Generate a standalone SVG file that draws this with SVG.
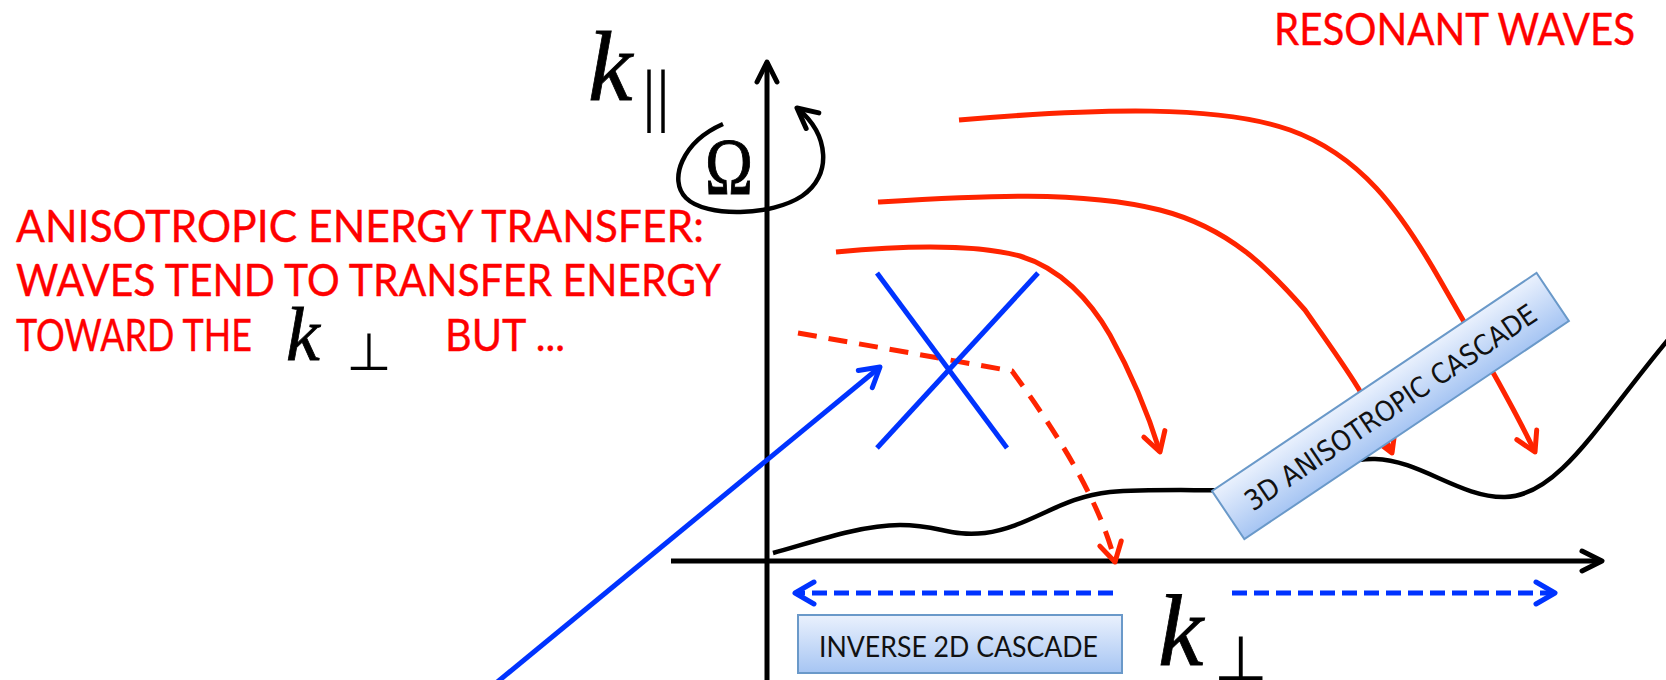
<svg xmlns="http://www.w3.org/2000/svg" width="1666" height="680" viewBox="0 0 1666 680">
<style>
.ln{fill:none;stroke-linejoin:round}
.ax{stroke:#000;stroke-width:5}
.bk{stroke:#000;stroke-width:4.5}
.rd{stroke:#FF2400;stroke-width:5}
.bl{stroke:#0033FF;stroke-width:5}
.dr{stroke-dasharray:19 12}
.db{stroke-dasharray:15 7}
.lbl{font-family:Lato,"Liberation Sans",sans-serif;fill:#FF0000;stroke:#FF0000;stroke-width:0.4}
.box{stroke:#6A99C9;stroke-width:2}
.bt{font-family:Lato,"Liberation Sans",sans-serif;fill:#111}
.bt2{font-family:"DejaVu Sans","Liberation Sans",sans-serif;fill:#111}
.math{font-family:"Liberation Serif",serif;font-style:italic;fill:#000;stroke:#000;stroke-width:0.8}
.sym{font-family:"Liberation Serif",serif;fill:#000}
.perp{font-family:"DejaVu Sans",sans-serif;fill:#000}
</style>
<defs>
<linearGradient id="gb" x1="0" y1="0" x2="0" y2="1">
<stop offset="0" stop-color="#EAF1FD"/>
<stop offset="1" stop-color="#A6C5F3"/>
</linearGradient>
<marker id="mr" viewBox="-25 -15 30 30" markerWidth="30" markerHeight="30" refX="0" refY="0" orient="auto" markerUnits="userSpaceOnUse">
<path d="M-19,-11 L0,0 L-19,11" fill="none" stroke="#FF2400" stroke-width="5" stroke-linejoin="round" stroke-linecap="round"/>
</marker>
<marker id="mb" viewBox="-25 -15 30 30" markerWidth="30" markerHeight="30" refX="0" refY="0" orient="auto" markerUnits="userSpaceOnUse">
<path d="M-19,-11 L0,0 L-19,11" fill="none" stroke="#0033FF" stroke-width="5" stroke-linejoin="round" stroke-linecap="round"/>
</marker>
<marker id="mk" viewBox="-25 -15 30 30" markerWidth="30" markerHeight="30" refX="0" refY="0" orient="auto" markerUnits="userSpaceOnUse">
<path d="M-20,-10 L0,0 L-20,10" fill="none" stroke="#000" stroke-width="5" stroke-linejoin="round" stroke-linecap="round"/>
</marker>
</defs>
<rect width="1666" height="680" fill="#fff"/>

<g id="labels">
<text class="lbl" x="1274" y="45" font-size="44" textLength="361" lengthAdjust="spacingAndGlyphs">RESONANT WAVES</text>
<text class="lbl" x="16" y="242" font-size="45" textLength="688" lengthAdjust="spacingAndGlyphs">ANISOTROPIC ENERGY TRANSFER:</text>
<text class="lbl" x="16" y="296" font-size="45" textLength="705" lengthAdjust="spacingAndGlyphs">WAVES TEND TO TRANSFER ENERGY</text>
<text class="lbl" x="16" y="351" font-size="45" textLength="236" lengthAdjust="spacingAndGlyphs">TOWARD THE</text>
<text class="math" x="286" y="360" font-size="76" stroke-width="0.4">k</text>
<text class="perp" x="369" y="370" font-size="52" text-anchor="middle">⊥</text>
<text class="lbl" x="445" y="351" font-size="45" textLength="120" lengthAdjust="spacingAndGlyphs">BUT ...</text>
</g>

<g id="axes">
<text class="math" x="588" y="100" font-size="100">k</text>
<text class="sym" x="642" y="118" font-size="70">||</text>
<text class="sym" x="705" y="194" font-size="80" textLength="48" lengthAdjust="spacingAndGlyphs" stroke="#000" stroke-width="1">Ω</text>
<text class="math" x="1158" y="665" font-size="102">k</text>
<text class="perp" x="1241" y="680" font-size="62" text-anchor="middle">⊥</text>
</g>

<g id="connectors">
<path class="ln ax" d="M767,690 L767,62" marker-end="url(#mk)"/>
<path class="ln ax" d="M671,561 L1602,561" marker-end="url(#mk)"/>
<path class="ln bk" d="M723,124 C682,142 668,180 686,198 C706,218 772,216 802,196 C832,176 830,135 797,108" marker-end="url(#mk)"/>
<path class="ln bk" d="M773,553 C810,543 860,525 900,525 C940,525 950,537 985,533 C1030,527 1060,497 1110,492 C1160,488 1220,492 1260,489 C1310,485 1330,458 1375,459 C1420,460 1460,498 1505,497 C1560,496 1600,420 1672,335"/>
<path class="ln rd" d="M959,120 C1100,108 1220,105 1290,130 C1360,155 1400,210 1440,280 C1480,350 1510,400 1535,452" marker-end="url(#mr)"/>
<path class="ln rd" d="M878,202 C980,196 1080,190 1160,210 C1230,228 1270,270 1305,310 C1340,360 1370,400 1392,453" marker-end="url(#mr)"/>
<path class="ln rd" d="M836,252 C900,246 970,243 1020,256 C1060,268 1090,300 1110,335 C1135,380 1150,420 1160,452" marker-end="url(#mr)"/>
<path class="ln rd dr" d="M798,333 L1012,371 C1055,430 1100,500 1115,562" marker-end="url(#mr)"/>
<path class="ln bl" d="M877,273 L1007,448"/>
<path class="ln bl" d="M1038,273 L877,448"/>
<path class="ln bl" d="M490,688 L880,367" marker-end="url(#mb)"/>
<path class="ln bl db" d="M1113,593 L795,593" marker-end="url(#mb)"/>
<path class="ln bl db" d="M1232,593 L1555,593" marker-end="url(#mb)"/>
</g>

<g id="inverse-2d-cascade">
<rect class="box" x="798" y="615" width="324" height="58" fill="url(#gb)"/>
<text class="bt" x="819" y="657" font-size="28" textLength="279" lengthAdjust="spacingAndGlyphs">INVERSE 2D CASCADE</text>
</g>

<g id="anisotropic-cascade" transform="translate(1212,491) rotate(-33.9)">
<rect class="box" x="0" y="0" width="391" height="58" fill="url(#gb)"/>
<text class="bt2" x="195" y="40" font-size="28" text-anchor="middle" textLength="345" lengthAdjust="spacingAndGlyphs">3D ANISOTROPIC CASCADE</text>
</g>
</svg>
